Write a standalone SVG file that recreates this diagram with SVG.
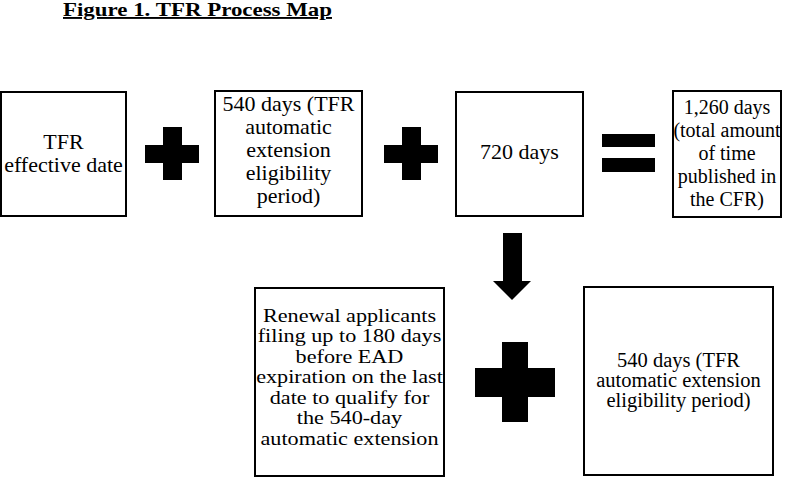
<svg xmlns="http://www.w3.org/2000/svg" width="800" height="478" viewBox="0 0 800 478">
<style>
.box{fill:#fff;stroke:#000;stroke-width:2}
.t{font-family:"Liberation Serif","Times New Roman",serif;font-size:20px;fill:#000;text-anchor:middle}
.title{font-family:"Liberation Serif","Times New Roman",serif;font-size:19px;font-weight:bold;fill:#000;text-decoration:underline}
.sym{fill:#000}
</style>
<rect width="800" height="478" fill="#fff"/>
<text class="title" x="63" y="16" textLength="269" lengthAdjust="spacingAndGlyphs">Figure 1. TFR Process Map</text>
<g id="n1"><rect class="box" x="1" y="92" width="125" height="124"/>
<text class="t" style="font-size:22px" x="63.5" y="149">TFR</text><text class="t" style="font-size:22px" x="63.5" y="172">effective date</text></g>
<g id="n2"><rect class="box" x="215" y="91" width="147" height="125"/>
<text class="t" style="font-size:22px" x="288.5" y="111">540 days (TFR</text><text class="t" style="font-size:22px" x="288.5" y="134">automatic</text><text class="t" style="font-size:22px" x="288.5" y="157">extension</text><text class="t" style="font-size:22px" x="288.5" y="180">eligibility</text><text class="t" style="font-size:22px" x="288.5" y="203">period)</text></g>
<g id="n3"><rect class="box" x="456" y="92" width="127" height="124"/>
<text class="t" style="font-size:22px" x="519.5" y="159">720 days</text></g>
<g id="n4"><rect class="box" x="673" y="91" width="108" height="126"/>
<text class="t" x="727" y="114">1,260 days</text><text class="t" x="727" y="137">(total amount</text><text class="t" x="727" y="160">of time</text><text class="t" x="727" y="183">published in</text><text class="t" x="727" y="206">the CFR)</text></g>
<g id="n5"><rect class="box" x="255" y="288" width="189" height="188"/>
<g transform="translate(349.5,0) scale(1.2,1) translate(-349.5,0)" style="font-size:18.5px">
<text class="t" style="font-size:18.5px" x="349.5" y="322">Renewal applicants</text><text class="t" style="font-size:18.5px" x="349.5" y="342.5">filing up to 180 days</text><text class="t" style="font-size:18.5px" x="349.5" y="363">before EAD</text><text class="t" style="font-size:18.5px" x="349.5" y="383.5">expiration on the last</text><text class="t" style="font-size:18.5px" x="349.5" y="404">date to qualify for</text><text class="t" style="font-size:18.5px" x="349.5" y="424.5">the 540-day</text><text class="t" style="font-size:18.5px" x="349.5" y="445">automatic extension</text></g></g>
<g id="n6"><rect class="box" x="584" y="287" width="189" height="188"/>
<text class="t" style="font-size:20.5px" x="678.5" y="367">540 days (TFR</text><text class="t" style="font-size:20.5px" x="678.5" y="387">automatic extension</text><text class="t" style="font-size:20.5px" x="678.5" y="407">eligibility period)</text></g>
<g id="connectors">
<path class="sym" d="M163,127h19v18h17v18h-17v17h-19v-17h-18v-18h18z"/>
<path class="sym" d="M402,127h19v18h17v18h-17v17h-19v-17h-18v-18h18z"/>
<rect class="sym" x="602" y="134" width="53" height="13"/>
<rect class="sym" x="602" y="158" width="53" height="14"/>
<path class="sym" d="M503,233h19v48h9l-19,19l-19,-19h10z"/>
<path class="sym" d="M502,342h26v26h27v29h-27v25h-26v-25h-27v-29h27z"/>
</g>
</svg>
